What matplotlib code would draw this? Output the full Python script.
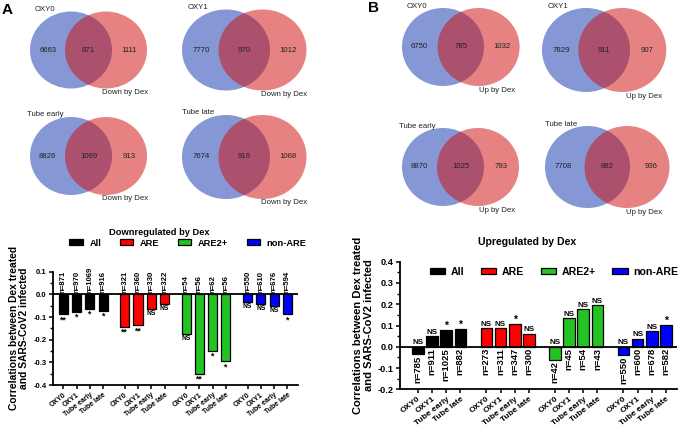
import matplotlib
matplotlib.use('Agg')
import matplotlib.pyplot as plt
from matplotlib.patches import Ellipse
from matplotlib.ticker import MultipleLocator, FormatStrFormatter
import numpy as np

plt.rcParams['font.family'] = ['Liberation Sans', 'DejaVu Sans']

# ---- data ----
samples = ['OXY0', 'OXY1', 'Tube early', 'Tube late']
groups = ['All', 'ARE', 'ARE2+', 'non-ARE']
group_colors = ['#000000', '#ff0000', '#22c322', '#0000ff']

# venn counts: only sample, shared, only Dex set
venn_down = [[6663, 871, 1111], [7770, 970, 1012], [8826, 1069, 913], [7674, 916, 1068]]
venn_up = [[6750, 785, 1032], [7829, 911, 907], [8870, 1025, 793], [7708, 882, 936]]

down_vals = [[-0.088, -0.076, -0.065, -0.073],
             [-0.144, -0.137, -0.065, -0.043],
             [-0.176, -0.350, -0.250, -0.295],
             [-0.035, -0.044, -0.050, -0.088]]
down_n = [[871, 970, 1069, 916], [321, 360, 330, 322], [54, 56, 62, 56], [550, 610, 676, 594]]
down_sig = [['**', '*', '*', '*'], ['**', '**', 'NS', 'NS'],
            ['NS', '**', '*', '*'], ['NS', 'NS', 'NS', '*']]

up_vals = [[-0.035, 0.050, 0.078, 0.085],
           [0.086, 0.086, 0.108, 0.061],
           [-0.060, 0.135, 0.177, 0.196],
           [-0.040, 0.038, 0.074, 0.102]]
up_n = [[785, 911, 1025, 882], [273, 311, 347, 300], [42, 45, 54, 43], [550, 600, 678, 582]]
up_sig = [['NS', 'NS', '*', '*'], ['NS', 'NS', '*', 'NS'],
          ['NS', 'NS', 'NS', 'NS'], ['NS', 'NS', 'NS', '*']]

W, H = 685, 430
fig = plt.figure(figsize=(W / 100, H / 100), dpi=100)

# overlay in pixel units for venns and panel letters
ov = fig.add_axes([0, 0, 1, 1])
ov.set_xlim(0, W)
ov.set_ylim(H, 0)
ov.axis('off')

# venn layout (pixels): blue centre x, y, rx, ry, red offset
venn_layout_A = [(71, 50, 41, 38.5, 35), (226, 50, 44, 40.5, 36.5),
                 (71, 156, 41, 39, 35), (226, 157, 44, 42, 36.5)]
venn_layout_B = [(443, 47, 41, 39, 35.6), (586, 50, 44, 42, 36.3),
                 (443, 167, 41, 39, 35), (587.5, 167, 42.5, 41, 39.5)]


def draw_venn(lay, counts, name, tag):
    cx, cy, rx, ry, dx = lay
    ov.add_patch(Ellipse((cx, cy), 2 * rx, 2 * ry, facecolor='#8597d4', edgecolor='none'))
    ov.add_patch(Ellipse((cx + dx, cy), 2 * rx, 2 * ry, facecolor='#cf0f0f', alpha=0.52,
                         edgecolor='none'))
    kw = dict(fontsize=5.6, color='#222222', ha='center', va='center')
    ov.text(cx - 0.57 * rx, cy, str(counts[0]), **kw)
    ov.text(cx + dx / 2, cy, str(counts[1]), **kw)
    ov.text(cx + dx + 0.57 * rx, cy, str(counts[2]), **kw)
    ov.text(cx - 0.63 * rx, cy - ry - 2, name, **kw)
    ov.text(cx + 1.33 * rx, cy + ry + 4, tag, **kw)


for lay, c, nm in zip(venn_layout_A, venn_down, samples):
    draw_venn(lay, c, nm, 'Down by Dex')
for lay, c, nm in zip(venn_layout_B, venn_up, samples):
    draw_venn(lay, c, nm, 'Up by Dex')

ov.text(2, 10, 'A', fontsize=11, fontweight='bold', va='center', ha='left')
ov.text(368, 8, 'B', fontsize=11, fontweight='bold', va='center', ha='left')


def bar_panel(rect, vals, ns, sigs, step, width, xlim, ylim, fs, tfs, up):
    ax = fig.add_axes(rect)
    xs_all = []
    for g in range(4):
        xs = np.arange(4) + g * step
        xs_all += list(xs)
        ax.bar(xs, vals[g], width, color=group_colors[g], edgecolor='black',
               linewidth=0.9, label=groups[g], zorder=3)
        for x, v, n, s in zip(xs, vals[g], ns[g], sigs[g]):
            sfs = fs * 0.85 if s == 'NS' else fs * 1.1
            if up:
                ax.text(x, min(0, v) - 0.006, 'n=%d' % n, rotation=90, ha='center',
                        va='top', fontsize=fs, fontweight='bold')
                off = 0.002 if s == 'NS' else -0.004
                ax.text(x, max(0, v) + off, s, ha='center', va='bottom',
                        fontsize=sfs, fontweight='bold')
            else:
                ax.text(x, 0.008, 'n=%d' % n, rotation=90, ha='center',
                        va='bottom', fontsize=fs, fontweight='bold')
                ax.text(x, v - 0.004, s, ha='center', va='top',
                        fontsize=sfs, fontweight='bold')
    ax.axhline(0, color='black', lw=1.3, zorder=4)
    ax.set_xlim(*xlim)
    ax.set_ylim(*ylim)
    ax.set_xticks(xs_all)
    ax.set_xticklabels(samples * 4, rotation=38, ha='right', rotation_mode='anchor',
                       fontsize=tfs * 0.92, fontweight='bold')
    ax.yaxis.set_major_locator(MultipleLocator(0.1))
    ax.yaxis.set_minor_locator(MultipleLocator(0.05))
    ax.yaxis.set_major_formatter(FormatStrFormatter('%.1f'))
    for lab in ax.get_yticklabels():
        lab.set_fontweight('bold')
        lab.set_fontsize(tfs)
    ax.spines['top'].set_visible(False)
    ax.spines['right'].set_visible(False)
    ax.spines['left'].set_linewidth(1.3)
    ax.spines['bottom'].set_linewidth(1.3)
    ax.tick_params(axis='both', which='major', length=3, width=1.1, pad=1.5)
    ax.tick_params(axis='y', which='minor', length=2, width=1.0)
    ax.patch.set_alpha(0)
    return ax


def frac(l, t, r, b):
    return [l / W, 1 - b / H, (r - l) / W, (b - t) / H]


axA = bar_panel(frac(52.7, 271.7, 298, 385), down_vals, down_n, down_sig,
                4.62, 0.68, (-0.8, 17.66), (-0.4, 0.1), 5.6, 5.5, False)
axA.set_ylabel('Correlations between Dex treated\nand SARS-CoV2 infected',
               fontsize=7.4, fontweight='bold', labelpad=3, linespacing=1.05)
fig.text(159 / W, 1 - 232 / H, 'Downregulated by Dex', fontsize=6.7,
         fontweight='bold', ha='center', va='center')
legA = axA.legend(loc='center', bbox_to_anchor=(188 / W, 1 - 243 / H),
                  bbox_transform=fig.transFigure, ncol=4, frameon=False,
                  prop={'size': 6.7, 'weight': 'bold'}, handlelength=1.45,
                  handleheight=0.55, handletextpad=0.7, columnspacing=2.0,
                  borderpad=0)

axB = bar_panel(frac(400, 261.7, 677, 389.3), up_vals, up_n, up_sig,
                4.83, 0.82, (-1.25, 18.26), (-0.2, 0.4), 6.8, 6.6, True)
axB.set_ylabel('Correlations between Dex treated\nand SARS-CoV2 infected',
               fontsize=8.0, fontweight='bold', labelpad=3, linespacing=1.05)
fig.text(527 / W, 1 - 242 / H, 'Upregulated by Dex', fontsize=7.6,
         fontweight='bold', ha='center', va='center')
legB = axB.legend(loc='center', bbox_to_anchor=(554 / W, 1 - 272 / H),
                  bbox_transform=fig.transFigure, ncol=4, frameon=False,
                  prop={'size': 7.6, 'weight': 'bold'}, handlelength=1.45,
                  handleheight=0.55, handletextpad=0.5, columnspacing=1.6,
                  borderpad=0)

fig.savefig('out.png', dpi=100)
